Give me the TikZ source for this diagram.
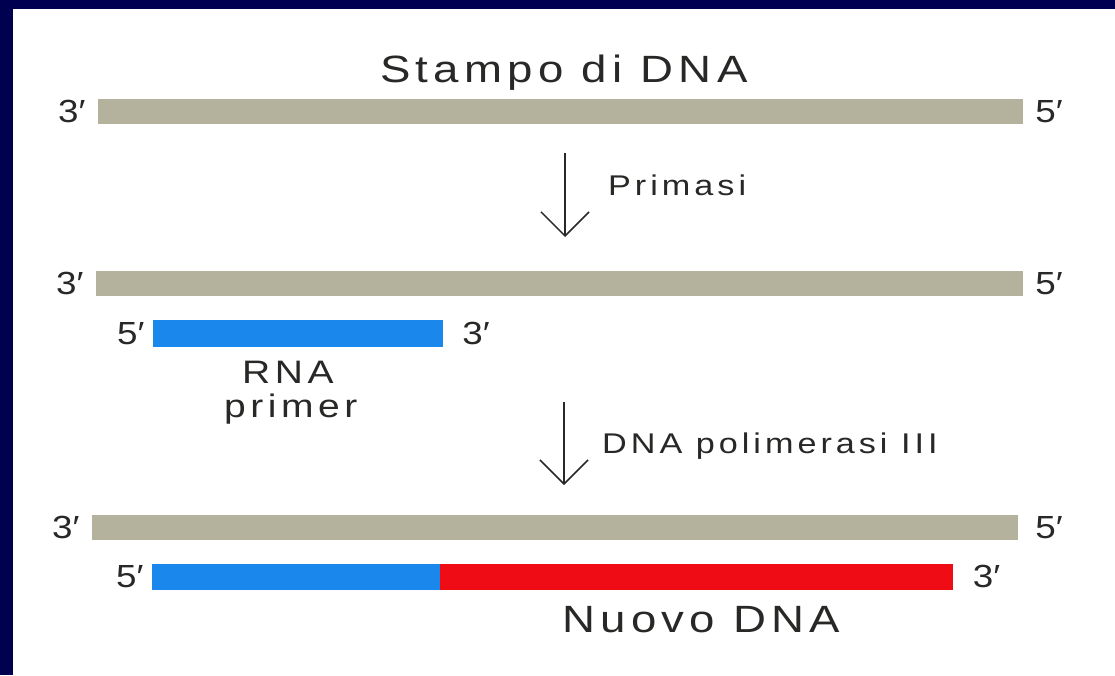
\documentclass[tikz,border=0pt]{standalone}
\usepackage{fontspec}
\setmainfont{Liberation Sans}
\newfontfamily\spaced[LetterSpace=14,FakeStretch=1.2]{Liberation Sans}
\newfontfamily\wide[FakeStretch=1.15]{Liberation Sans}
\usetikzlibrary{positioning,arrows.meta}
\definecolor{navy}{RGB}{0,0,80}
\definecolor{templ}{RGB}{180,177,156}
\definecolor{rnablue}{RGB}{25,135,235}
\definecolor{newred}{RGB}{240,12,20}
\definecolor{ink}{RGB}{40,40,38}
\tikzset{
  strand/.style={rectangle,inner sep=0pt,minimum height=25pt},
  endlab/.style={inner sep=0pt,text=ink,font=\wide\fontsize{32}{32}\selectfont},
  steplab/.style={inner sep=0pt,anchor=base west,text=ink,font=\spaced\fontsize{28.5}{28.5}\selectfont},
  biglab/.style={inner sep=0pt,anchor=base west,text=ink,font=\spaced\fontsize{38}{38}\selectfont},
  primerlab/.style={inner sep=0pt,anchor=base west,text=ink,font=\spaced\fontsize{32.5}{32.5}\selectfont},
  steparrow/.style={ink,line width=1.5pt,-{Straight Barb[length=24pt,width=48pt,line width=1.5pt]}}
}
\begin{document}
\begin{tikzpicture}[x=1pt,y=-1pt]
\useasboundingbox (0,0) rectangle (1115,675);
\fill[white] (0,0) rectangle (1115,675);
\fill[navy] (0,0) rectangle (13,675);
\fill[navy] (0,0) rectangle (1115,9);

\node[biglab] (title) at (380,82) {Stampo di DNA};
\node[strand,fill=templ,minimum width=925pt] (t1) at (560.5,111.5) {};
\node[endlab,left=12pt of t1] (t1a) {3′};
\node[endlab,right=12pt of t1] (t1b) {5′};

\coordinate (a1s) at (565,153);
\coordinate (a1e) at (565,237);
\draw[steparrow] (a1s) -- (a1e);
\node[steplab] (prim) at (608,195) {Primasi};

\node[strand,fill=templ,minimum width=927pt] (t2) at (559.5,283.5) {};
\node[endlab,left=12pt of t2] (t2a) {3′};
\node[endlab,right=12pt of t2] (t2b) {5′};
\node[strand,fill=rnablue,minimum width=290pt,minimum height=27pt] (r1) at (298,333.5) {};
\node[endlab,left=8pt of r1] (r1a) {5′};
\node[endlab,right=19pt of r1] (r1b) {3′};
\node[primerlab] (rna) at (242,383) {RNA};
\node[primerlab] (prm) at (224,417) {primer};

\coordinate (a2s) at (564,402);
\coordinate (a2e) at (564,485);
\draw[steparrow] (a2s) -- (a2e);
\node[steplab] (pol) at (602,453) {DNA polimerasi III};

\node[strand,fill=templ,minimum width=926pt] (t3) at (555,527.5) {};
\node[endlab,left=12pt of t3] (t3a) {3′};
\node[endlab,right=17pt of t3] (t3b) {5′};
\node[strand,fill=rnablue,minimum width=288pt,minimum height=26pt] (r2) at (296,576.5) {};
\node[strand,fill=newred,minimum width=513pt,minimum height=26pt,right=0pt of r2] (n2) {};
\node[endlab,left=8pt of r2] (r2a) {5′};
\node[endlab,right=19pt of n2] (n2b) {3′};
\node[biglab] (nuovo) at (562,632) {Nuovo DNA};

\end{tikzpicture}
\end{document}
